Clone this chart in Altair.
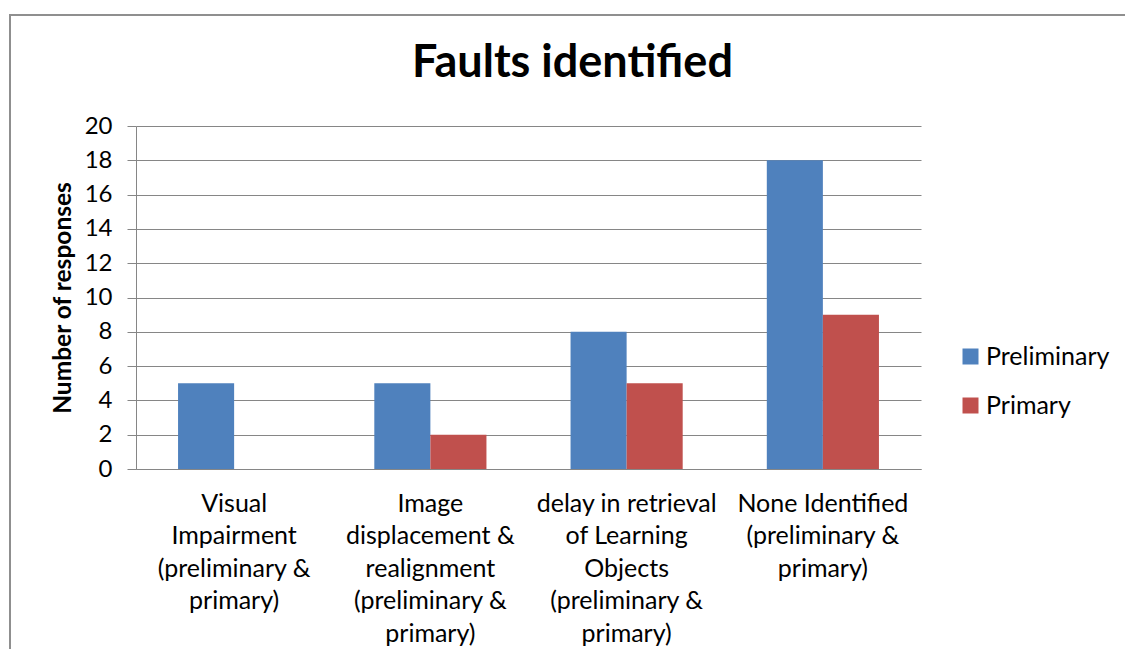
import altair as alt
import pandas as pd

categories = [
    "Visual\nImpairment\n(preliminary &\nprimary)",
    "Image\ndisplacement &\nrealignment\n(preliminary &\nprimary)",
    "delay in retrieval\nof Learning\nObjects\n(preliminary &\nprimary)",
    "None Identified\n(preliminary &\nprimary)",
]
series = ["Preliminary", "Primary"]
preliminary = [5, 5, 8, 18]
primary = [0, 2, 5, 9]
y_ticks = [0, 2, 4, 6, 8, 10, 12, 14, 16, 18, 20]
colors = ["#4F81BD", "#C0504D"]

rows = []
for c, a, b in zip(categories, preliminary, primary):
    rows.append({"category": c, "series": series[0], "value": a})
    rows.append({"category": c, "series": series[1], "value": b})
df = pd.DataFrame(rows)

FONT = "Lato"
GRID = "#868686"

bars = alt.Chart(df).mark_bar().encode(
    x=alt.X(
        "category:N",
        sort=categories,
        scale=alt.Scale(paddingInner=3 / 7, paddingOuter=3 / 14),
        axis=alt.Axis(
            title=None,
            labelAngle=0,
            labelExpr="split(datum.label, '\\n')",
            labelFont=FONT,
            labelFontSize=25,
            labelColor="#000000",
            labelLineHeight=32.5,
            labelPadding=22,
            labelBaseline="top",
            labelLimit=400,
            ticks=False,
            domain=True,
            domainColor=GRID,
            domainWidth=1,
            grid=False,
        ),
    ),
    xOffset=alt.XOffset("series:N", sort=series),
    y=alt.Y(
        "value:Q",
        scale=alt.Scale(domain=[0, 20], nice=False),
        axis=alt.Axis(
            title="Number of responses",
            titleFont=FONT,
            titleFontSize=24.5,
            titleFontWeight="bold",
            titleColor="#000000",
            titlePadding=9,
            values=y_ticks,
            labelFont=FONT,
            labelFontSize=24,
            labelColor="#000000",
            labelPadding=15,
            tickSize=9,
            tickColor=GRID,
            domainColor=GRID,
            gridColor=GRID,
            grid=True,
        ),
    ),
    color=alt.Color(
        "series:N",
        sort=series,
        scale=alt.Scale(domain=series, range=colors),
        legend=alt.Legend(
            title=None,
            orient="none",
            legendX=822,
            legendY=218,
            symbolType="square",
            symbolSize=256,
            symbolStrokeWidth=0,
            labelFont=FONT,
            labelFontSize=25,
            labelColor="#000000",
            labelOffset=3,
            rowPadding=23,
            padding=0,
        ),
    ),
)

border = alt.Chart(alt.Data(values=[{}])).mark_rect(
    fill=None, stroke="#8f8f8f", strokeWidth=2
).encode(
    x=alt.value(-126), y=alt.value(-111), x2=alt.value(1200), y2=alt.value(800)
)

chart = alt.layer(border, bars).properties(
    width=785,
    height=343,
    title=alt.TitleParams(
        "Faults identified",
        font=FONT,
        fontSize=45,
        fontWeight="bold",
        color="#000000",
        anchor="middle",
        baseline="alphabetic",
        dx=44,
        offset=-108,
    ),
    autosize=alt.AutoSizeParams(type="none"),
    padding={"left": 128, "top": 118, "right": 204, "bottom": 180},
).configure_view(stroke=None)

chart.save("out.html", embed_options={"renderer": "svg", "actions": False})
